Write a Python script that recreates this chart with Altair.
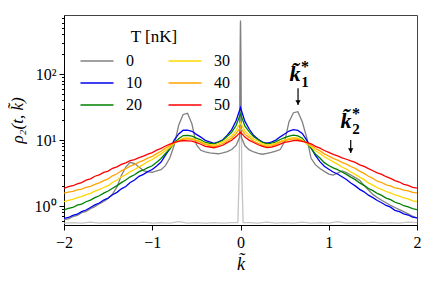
import altair as alt
import pandas as pd

# ---------------- data ----------------
K = [round(-2 + 0.05 * i, 2) for i in range(81)]

T_ORDER = ["0", "10", "20", "30", "40", "50"]

BLUE = [0.65, 0.67, 0.72, 0.75, 0.82, 0.87, 0.95, 1.04, 1.11, 1.23, 1.32, 1.48, 1.61, 1.82, 1.98, 2.27, 2.48, 2.82, 3.02, 3.32,
        3.58, 4.05, 4.65, 5.9, 7.4, 10.1, 12.4, 14.1, 14.2, 13.6, 12.2, 11.1, 9.9, 9.4, 8.9, 9.4, 10.1, 11.9, 14.4, 19.6,
        31,
        19.2, 14.6, 11.7, 10.3, 9.3, 9.0, 9.3, 10.0, 11.2, 12.4, 13.7, 14.4, 14.0, 12.6, 10.0, 7.6, 5.8, 4.7, 4.0, 3.62,
        3.28, 3.06, 2.78, 2.52, 2.24, 2.02, 1.79, 1.64, 1.46, 1.34, 1.21, 1.12, 1.02, 0.96, 0.86, 0.82, 0.76, 0.73, 0.68, 0.66]

GREEN = [0.87, 0.92, 0.95, 1.03, 1.07, 1.16, 1.23, 1.34, 1.43, 1.57, 1.69, 1.86, 2.04, 2.26, 2.48, 2.77, 2.98, 3.32, 3.52, 3.83,
         4.08, 4.62, 5.25, 6.25, 7.35, 9.1, 10.5, 11.7, 11.8, 11.5, 10.7, 10.1, 9.2, 8.95, 8.75, 9.25, 9.95, 11.4, 13.1, 16.6,
         25,
         16.3, 13.3, 11.2, 10.1, 9.2, 8.8, 9.0, 9.4, 10.2, 10.9, 11.5, 11.9, 11.6, 10.7, 8.9, 7.5, 6.1, 5.35, 4.55, 4.12,
         3.78, 3.56, 3.28, 3.02, 2.74, 2.51, 2.24, 2.06, 1.84, 1.71, 1.55, 1.45, 1.32, 1.25, 1.14, 1.09, 1.01, 0.97, 0.91, 0.88]

GOLD = [1.16, 1.22, 1.26, 1.34, 1.39, 1.49, 1.56, 1.68, 1.77, 1.91, 2.04, 2.27, 2.48, 2.77, 2.98, 3.32, 3.58, 3.93, 4.27, 4.72,
        5.08, 5.62, 6.18, 6.95, 7.75, 8.95, 9.85, 10.7, 10.8, 10.65, 10.0, 9.55, 8.85, 8.55, 8.35, 8.85, 9.45, 10.45, 11.6, 13.9,
        18.5,
        13.7, 11.8, 10.3, 9.6, 8.8, 8.4, 8.6, 8.9, 9.6, 10.1, 10.6, 10.9, 10.7, 10.0, 8.8, 7.9, 6.9, 6.25, 5.58, 5.12,
        4.68, 4.32, 3.9, 3.62, 3.28, 3.02, 2.74, 2.51, 2.24, 2.07, 1.89, 1.79, 1.66, 1.58, 1.47, 1.41, 1.33, 1.28, 1.2, 1.17]

ORANGE = [1.57, 1.63, 1.67, 1.76, 1.81, 1.92, 1.99, 2.13, 2.24, 2.42, 2.58, 2.87, 3.08, 3.42, 3.68, 4.03, 4.27, 4.63, 4.92, 5.33,
          5.67, 6.23, 6.77, 7.55, 8.25, 9.15, 9.75, 10.35, 10.4, 10.25, 9.75, 9.25, 8.55, 8.25, 7.95, 8.35, 8.85, 9.75, 10.7, 12.5,
          15.5,
          12.3, 10.9, 9.6, 8.9, 8.3, 8.0, 8.2, 8.6, 9.3, 9.7, 10.2, 10.45, 10.3, 9.85, 9.1, 8.35, 7.45, 6.85, 6.18, 5.72,
          5.28, 4.97, 4.58, 4.32, 3.97, 3.72, 3.38, 3.12, 2.83, 2.62, 2.38, 2.27, 2.1, 2.02, 1.89, 1.83, 1.74, 1.69, 1.61, 1.58]

RED = [1.85, 1.97, 2.03, 2.17, 2.27, 2.47, 2.58, 2.83, 2.97, 3.23, 3.38, 3.73, 3.93, 4.28, 4.52, 4.88, 5.07, 5.43, 5.72, 6.13,
       6.47, 7.03, 7.47, 8.13, 8.67, 9.23, 9.55, 9.85, 9.75, 9.65, 9.15, 8.65, 8.05, 7.85, 7.65, 7.95, 8.35, 9.15, 9.95, 11.3,
       13.2,
       11.1, 9.9, 9.2, 8.5, 8.0, 7.7, 7.8, 8.2, 8.7, 9.2, 9.5, 9.8, 9.85, 9.55, 9.2, 8.75, 8.05, 7.55, 6.95, 6.52,
       6.08, 5.77, 5.38, 5.12, 4.82, 4.58, 4.22, 3.98, 3.68, 3.43, 3.18, 3.02, 2.78, 2.63, 2.43, 2.31, 2.13, 2.06, 1.92, 1.86]

GRAY_K = [-2.0, -1.95, -1.9, -1.85, -1.8, -1.75, -1.7, -1.65, -1.6, -1.55, -1.5, -1.45, -1.4, -1.35, -1.3, -1.25, -1.2,
          -1.15, -1.1, -1.05, -1.0, -0.95, -0.9, -0.85, -0.8, -0.75, -0.7, -0.65, -0.6, -0.55, -0.5, -0.45, -0.4, -0.35,
          -0.3, -0.25, -0.2, -0.15, -0.1, -0.05, -0.01, 0.0, 0.01, 0.05, 0.1, 0.15, 0.2, 0.25, 0.3, 0.35, 0.4, 0.45, 0.5,
          0.55, 0.6, 0.65, 0.7, 0.75, 0.8, 0.85, 0.9, 0.95, 1.0, 1.05, 1.1, 1.15, 1.2, 1.25, 1.3, 1.35, 1.4, 1.45, 1.5,
          1.55, 1.6, 1.65, 1.7, 1.75, 1.8, 1.85, 1.9, 1.95, 2.0]
GRAY_V = [0.62, 0.64, 0.69, 0.72, 0.79, 0.83, 0.91, 0.98, 1.08, 1.17, 1.3, 1.52, 1.95, 2.9, 3.9, 4.6, 4.4,
          3.9, 3.45, 3.3, 3.25, 3.4, 3.55, 4.1, 5.4, 8.5, 17, 24.5, 25.5, 17.5,
          8.5, 7.0, 6.6, 6.4, 6.3, 6.2, 6.4, 6.7, 7.2, 8.3, 11, 650, 11, 8.2, 7.1, 6.6, 6.3, 6.1, 6.3, 6.5, 6.8, 7.2, 9.5,
          19, 26, 27, 19, 11, 5.3, 4.2, 3.7, 3.35, 3.05, 2.95, 3.15, 3.4, 3.2, 2.95, 2.7, 2.45, 2.05, 1.75, 1.5,
          1.35, 1.22, 1.12, 1.02, 0.95, 0.88, 0.82, 0.76, 0.7, 0.66]

FLOOR_K = [-2.0, -1.9, -1.8, -1.7, -1.6, -1.5, -1.4, -1.3, -1.2, -1.1, -1.0, -0.9, -0.8, -0.7, -0.6, -0.5, -0.4, -0.3,
           -0.2, -0.1, -0.03, -0.015, 0.0, 0.015, 0.03, 0.1, 0.2, 0.3, 0.4, 0.5, 0.6, 0.7, 0.8, 0.9, 1.0, 1.1, 1.2, 1.3,
           1.4, 1.5, 1.6, 1.7, 1.8, 1.9, 2.0]
FLOOR_V = [0.55, 0.56, 0.55, 0.57, 0.55, 0.56, 0.55, 0.56, 0.55, 0.57, 0.55, 0.56, 0.55, 0.58, 0.55, 0.56, 0.55, 0.56,
           0.55, 0.56, 0.56, 3.0, 600, 3.0, 0.56, 0.56, 0.55, 0.57, 0.55, 0.56, 0.55, 0.57, 0.55, 0.56, 0.55, 0.58, 0.55,
           0.56, 0.55, 0.57, 0.55, 0.56, 0.55, 0.57, 0.56]

COLORS = {"0": "#808080", "10": "#0000ee", "20": "#008000", "30": "#ffd700", "40": "#ffa500", "50": "#ff0000"}

ARROW_K = [0.652, 1.249]
ARROW_TOP = [61, 10.0]
ARROW_TIP = [34, 6.35]
LABEL_K = [0.618, 1.195]
LABEL_Y = [78, 15.2]
LABEL_SUB = ["1", "2"]

Y_TICKS = [0.6, 0.7, 0.8, 0.9, 1, 2, 3, 4, 5, 6, 7, 8, 9, 10, 20, 30, 40, 50, 60, 70, 80, 90,
           100, 200, 300, 400, 500, 600, 700]
X_TICKS = [-2, -1, 0, 1, 2]

# ---------------- build tables ----------------
rows = []
for k, v in zip(GRAY_K, GRAY_V):
    rows.append({"k": k, "rho": v, "T": "0"})
for lab, vals in [("10", BLUE), ("20", GREEN), ("30", GOLD), ("40", ORANGE), ("50", RED)]:
    for k, v in zip(K, vals):
        rows.append({"k": k, "rho": v, "T": lab})
df = pd.DataFrame(rows)
floor_df = pd.DataFrame({"k": FLOOR_K, "rho": FLOOR_V})
arrow_df = pd.DataFrame({"k": ARROW_K, "top": ARROW_TOP, "tip": ARROW_TIP})
label_df = pd.DataFrame({"k": LABEL_K, "y": LABEL_Y, "sub": LABEL_SUB})

FONT = "Liberation Serif"

x_scale = alt.Scale(domain=[-2, 2], nice=False, zero=False)
y_scale = alt.Scale(type="log", domain=[0.515, 790], nice=False)

x_axis = alt.Axis(values=X_TICKS, format="d", title="k̃", titleFontStyle="italic", titleFontSize=18, titleFont=FONT,
                  titleFontWeight="normal", titleColor="black", titlePadding=5,
                  labelFont=FONT, labelFontSize=16, labelColor="black", labelPadding=4,
                  tickSize=5, tickColor="black", domainColor="black", grid=False, labelFlush=False)

y_axis = alt.Axis(values=Y_TICKS,
                  labelExpr="datum.value == 1 ? '10⁰' : (datum.value == 10 ? '10¹' : (datum.value == 100 ? '10²' : ''))",
                  title="ρ₂(t, k̃)", titleFontStyle="italic", titleFontSize=17, titleFont=FONT,
                  titleFontWeight="normal", titleColor="black", titlePadding=8,
                  labelFont=FONT, labelFontSize=16, labelColor="black", labelPadding=3, labelOverlap=False,
                  tickSize={"condition": {"test": "datum.value == 1 || datum.value == 10 || datum.value == 100",
                                          "value": 5}, "value": 2.5},
                  tickColor="black", domainColor="black", grid=False)

legend = alt.Legend(title="T [nK]", orient="none", legendX=14, legendY=14, columns=2,
                    symbolType="M-1,0H5", symbolSize=121, symbolStrokeWidth=1.6,
                    labelOffset=32, rowPadding=6, columnPadding=23,
                    titleAnchor="middle", titleFontSize=17, titleFont=FONT, titleFontWeight="normal",
                    titleColor="black", titlePadding=7,
                    labelFontSize=16, labelFont=FONT, labelColor="black", padding=0)

color = alt.Color("T:N", scale=alt.Scale(domain=T_ORDER, range=[COLORS[t] for t in T_ORDER]),
                  legend=legend)

floor = alt.Chart(floor_df).mark_line(color="#c4c4c4", strokeWidth=1.3, clip=True).encode(
    x=alt.X("k:Q", scale=x_scale, axis=x_axis),
    y=alt.Y("rho:Q", scale=y_scale, axis=y_axis),
)

base = alt.Chart(df).mark_line(strokeWidth=1.3, clip=True).encode(
    x=alt.X("k:Q", scale=x_scale, axis=x_axis),
    y=alt.Y("rho:Q", scale=y_scale, axis=y_axis),
    color=color,
)
series_layers = [base.transform_filter(alt.datum.T == t) for t in T_ORDER]

rule = alt.Chart(arrow_df).mark_rule(color="black", strokeWidth=1.2).encode(
    x="k:Q", y="top:Q", y2="tip:Q")
head = alt.Chart(arrow_df).mark_point(shape="triangle-down", filled=True, size=28, color="black",
                                      opacity=1, yOffset=-2.5).encode(x="k:Q", y="tip:Q")

ktext = alt.Chart(label_df).mark_text(text="k̃", font=FONT, fontSize=22, fontStyle="italic",
                                      fontWeight="bold", align="center", baseline="alphabetic",
                                      color="black").encode(x="k:Q", y="y:Q")
subtext = alt.Chart(label_df).mark_text(font=FONT, fontSize=15, fontWeight="bold", align="center",
                                        baseline="alphabetic", dx=10, dy=6, color="black").encode(
    x="k:Q", y="y:Q", text="sub:N")
startext = alt.Chart(label_df).mark_text(text="*", font=FONT, fontSize=16, fontWeight="bold",
                                         align="center", baseline="alphabetic", dx=10, dy=-9,
                                         color="black").encode(x="k:Q", y="y:Q")

chart = alt.layer(floor, *series_layers, rule, head, ktext, subtext, startext).properties(
    width=353, height=210,
    padding={"left": 56, "top": 7, "right": 6, "bottom": 48},
    autosize=alt.AutoSizeParams(type="none"),
    background="white",
).configure(font=FONT).configure_view(stroke="#444444", strokeWidth=1)

chart.save("out.html", embed_options={"renderer": "svg", "actions": False})
